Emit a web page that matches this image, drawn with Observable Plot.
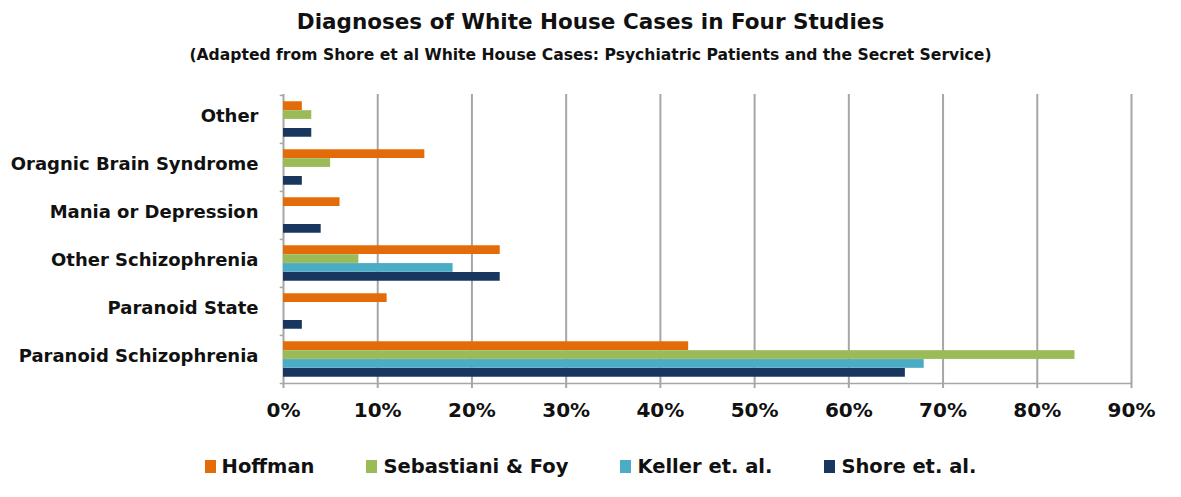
<!DOCTYPE html>
<html>
<head>
<meta charset="utf-8">
<script src="https://cdn.jsdelivr.net/npm/d3@7"></script>
<script src="https://cdn.jsdelivr.net/npm/@observablehq/plot@0.6"></script>
<style>
  html, body { margin: 0; padding: 0; background: #fff; }
  body { width: 1181px; height: 497px; overflow: hidden; font-family: "DejaVu Sans", sans-serif; color: #111; }
  #head { height: 80px; text-align: center; }
  #title { font-size: 21.5px; font-weight: bold; padding-top: 9px; line-height: 26px; }
  #subtitle { font-size: 15.6px; font-weight: bold; margin-top: 10px; line-height: 20px; }
  #legend { display: flex; justify-content: center; gap: 52px; margin-top: 20px; font-size: 19.5px; font-weight: bold; }
  .item { display: flex; align-items: center; gap: 6px; }
  .sw { width: 11px; height: 13px; display: inline-block; }
</style>
</head>
<body>
<div id="head">
  <div id="title">Diagnoses of White House Cases in Four Studies</div>
  <div id="subtitle">(Adapted from Shore et al White House Cases: Psychiatric Patients and the Secret Service)</div>
</div>
<div id="chart"></div>
<div id="legend"></div>
<script>
// ---- data ----
const categories = ["Other", "Oragnic Brain Syndrome", "Mania or Depression", "Other Schizophrenia", "Paranoid State", "Paranoid Schizophrenia"];
const seriesNames = ["Hoffman", "Sebastiani & Foy", "Keller et. al.", "Shore et. al."];
const hoffman    = [2, 15, 6, 23, 11, 43];
const sebastiani = [3, 5, null, 8, null, 84];
const keller     = [null, null, null, 18, null, 68];
const shore      = [3, 2, 4, 23, 2, 66];
const xTicks = [0, 10, 20, 30, 40, 50, 60, 70, 80, 90];
const colors = ["#E36C09", "#9BBB59", "#4BACC6", "#17375E"];

// ---- layout ----
const width = 1181, height = 355;
const marginTop = 14, marginBottom = 52, marginLeft = 283, marginRight = 50;
const band = (height - marginTop - marginBottom) / categories.length;
const pad = band * 0.13;
const slot = band * 0.74 / seriesNames.length;

const allSeries = [hoffman, sebastiani, keller, shore];
const barMarks = allSeries.map((vals, i) => {
  const rows = categories.map((c, j) => ({category: c, value: vals[j]})).filter(d => d.value != null);
  return Plot.barX(rows, {
    x: "value", y: "category", fill: colors[i],
    insetTop: pad + i * slot,
    insetBottom: band - pad - (i + 1) * slot
  });
});

const chart = Plot.plot({
  width, height, marginTop, marginBottom, marginLeft, marginRight,
  style: {fontFamily: "DejaVu Sans, sans-serif", background: "#fff", color: "#111"},
  x: {domain: [0, 90], axis: null},
  y: {domain: categories, padding: 0, axis: null},
  marks: [
    Plot.ruleX(xTicks, {stroke: "#a6a6a6", strokeWidth: 2, insetBottom: -5}),
    ...barMarks,
    Plot.ruleY(categories, {y: d => d, x1: -0.35, x2: 0, dy: -band / 2, stroke: "#a6a6a6", strokeWidth: 1.5}),
    Plot.ruleY([categories[categories.length - 1]], {y: d => d, x1: -0.35, x2: 90, dy: band / 2, stroke: "#a6a6a6", strokeWidth: 1.5}),
    Plot.text(categories, {y: d => d, x: 0, text: d => d, textAnchor: "end", dx: -25, dy: -3, fontSize: 18, fontWeight: "bold", fill: "#111"}),
    Plot.text(xTicks, {x: d => d, frameAnchor: "bottom", text: d => d + "%", dy: 33, fontSize: 20, fontWeight: "bold", fill: "#111"})
  ]
});
document.getElementById("chart").appendChild(chart);

// ---- legend ----
const legend = document.getElementById("legend");
seriesNames.forEach((name, i) => {
  const item = document.createElement("span");
  item.className = "item";
  const sw = document.createElement("span");
  sw.className = "sw";
  sw.style.background = colors[i];
  const label = document.createElement("span");
  label.textContent = name;
  item.appendChild(sw);
  item.appendChild(label);
  legend.appendChild(item);
});
</script>
</body>
</html>
